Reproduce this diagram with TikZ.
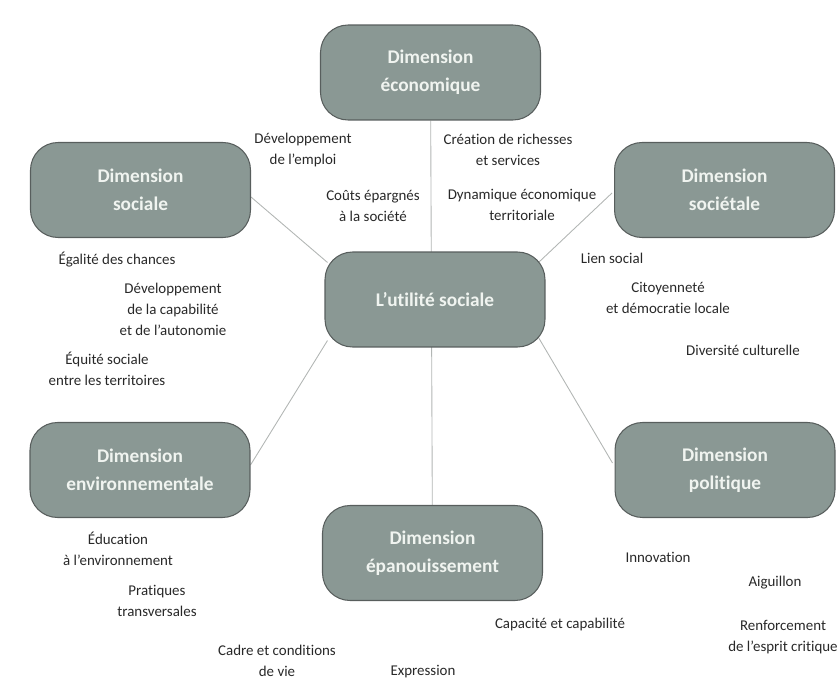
\documentclass[tikz,border=0pt]{standalone}
\usepackage{fontspec}
\setmainfont{Carlito}[Ligatures={NoCommon,NoContextual,NoRare}]
\usetikzlibrary{backgrounds}
\definecolor{boxfill}{RGB}{138,152,148}
\definecolor{boxline}{RGB}{88,94,93}
\definecolor{boxtext}{RGB}{240,244,240}
\definecolor{lbltext}{RGB}{40,40,40}
\definecolor{linkgrey}{RGB}{178,182,180}
\begin{document}
\begin{tikzpicture}[x=0.02cm,y=-0.02cm,
    dimbox/.style={draw=boxline, line width=0.6pt, fill=boxfill, rounded corners=0.55cm,
      minimum width=4.4cm, minimum height=1.9cm, align=center, text=boxtext,
      font=\fontsize{11}{16}\selectfont\bfseries},
    lbl/.style={align=center, text=lbltext, font=\fontsize{8.5}{12}\selectfont},
    link/.style={draw=linkgrey, line width=0.5pt}]
    \useasboundingbox (0,0) rectangle (838,686);

    % Dimensions
    \node[dimbox] (util) at (435,299.5) {L'utilité sociale};
    \node[dimbox] (econ) at (430.5,72.5) {Dimension\\économique};
    \node[dimbox] (soc) at (140.5,190) {Dimension\\sociale};
    \node[dimbox] (soct) at (724.5,190) {Dimension\\sociétale};
    \node[dimbox] (env) at (140,470) {Dimension\\environnementale};
    \node[dimbox] (pol) at (725,470) {Dimension\\politique};
    \node[dimbox] (epan) at (432.5,553) {Dimension\\épanouissement};

    % Links
    \begin{scope}[on background layer]
        \draw[link] (econ) -- (epan);
        \draw[link] ([shift={(0,7)}]soc.east) -- ([shift={(3,11)}]util.north west);
        \draw[link] ([shift={(-2,3)}]soct.west) -- ([shift={(-7,11)}]util.north east);
        \draw[link] ([shift={(0,-5)}]env.east) -- ([shift={(3,-7)}]util.south west);
        \draw[link] ([shift={(-2,-7)}]pol.west) -- ([shift={(-7,-10)}]util.south east);
    \end{scope}

    % Economic
    \node[lbl] (emploi) at (303,150) {Développement\\de l'emploi};
    \node[lbl] (couts) at (373,206) {Coûts épargnés\\à la société};
    \node[lbl] (richesses) at (508,150) {Création de richesses\\et services};
    \node[lbl] (dynamique) at (522,205) {Dynamique économique\\territoriale};

    % Social
    \node[lbl] (egalite) at (117,260) {Égalité des chances};
    \node[lbl] (capab) at (173,309) {Développement\\de la capabilité\\et de l'autonomie};
    \node[lbl] (equite) at (107,369) {Équité sociale\\entre les territoires};

    % Societal
    \node[lbl] (lien) at (612,258) {Lien social};
    \node[lbl] (citoyen) at (668,298) {Citoyenneté\\et démocratie locale};
    \node[lbl] (diversite) at (743,350) {Diversité culturelle};

    % Environmental
    \node[lbl] (education) at (118,549) {Éducation\\à l'environnement};
    \node[lbl] (pratiques) at (157,601) {Pratiques\\transversales};
    \node[lbl] (cadre) at (277,661) {Cadre et conditions\\de vie};

    % Fulfilment
    \node[lbl] (expression) at (423,672) {Expression};
    \node[lbl] (capacite) at (560,625) {Capacité et capabilité};

    % Political
    \node[lbl] (innovation) at (658,557) {Innovation};
    \node[lbl] (aiguillon) at (775,583) {Aiguillon};
    \node[lbl] (critique) at (783,637) {Renforcement\\de l'esprit critique};
\end{tikzpicture}
\end{document}
